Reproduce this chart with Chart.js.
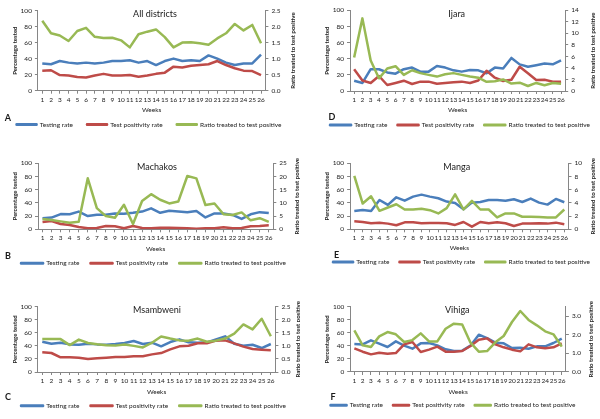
<!DOCTYPE html>
<html>
<head>
<meta charset="utf-8">
<script src="https://cdn.jsdelivr.net/npm/chart.js@4"></script>
<style>
  html, body { margin: 0; padding: 0; background: #fff; }
  body { width: 600px; height: 419px; position: relative; overflow: hidden; }
  canvas { position: absolute; }
</style>
</head>
<body>
<canvas id="chartA" width="300" height="140" style="left:0;top:0"></canvas>
<canvas id="chartD" width="300" height="140" style="left:300px;top:0"></canvas>
<canvas id="chartB" width="300" height="140" style="left:0;top:140px"></canvas>
<canvas id="chartE" width="300" height="140" style="left:300px;top:140px"></canvas>
<canvas id="chartC" width="300" height="139" style="left:0;top:280px"></canvas>
<canvas id="chartF" width="300" height="139" style="left:300px;top:280px"></canvas>
<script>
// --- Données ---
const weeks = ["1","2","3","4","5","6","7","8","9","10","11","12","13","14","15","16","17","18","19","20","21","22","23","24","25","26"];
const seriesNames = ["Testing rate", "Test positivity rate", "Ratio treated to test positive"];

const allTesting    = [34, 33, 37, 35, 34, 35, 34, 35, 37, 37, 38, 35, 37, 32, 37, 40, 37, 38, 37, 44, 40, 35, 32, 34, 34, 45];
const allPositivity = [25, 25.5, 19.5, 19, 17, 16.5, 19, 21, 19, 19, 19.5, 17.5, 19, 21, 22.5, 30, 29, 31, 32, 33, 37, 32, 28, 25, 24.5, 19.5];
const allRatio      = [2.18, 1.79, 1.72, 1.55, 1.86, 1.96, 1.68, 1.64, 1.65, 1.57, 1.35, 1.76, 1.84, 1.91, 1.67, 1.35, 1.50, 1.51, 1.48, 1.43, 1.63, 1.79, 2.08, 1.88, 2.05, 1.48];

const ijaraTesting    = [12.8, 10, 27, 27, 23, 21.5, 27, 29, 24, 24, 31, 29, 25.6, 24, 26, 25.6, 22, 29, 28, 41, 33, 30, 32, 34, 33, 38];
const ijaraPositivity = [27, 13, 10, 18.6, 7.4, 10, 12.8, 8.7, 11.6, 11.6, 9, 10, 10.7, 11.6, 10, 13, 25, 16.5, 12.4, 14, 30, 22, 13.6, 14, 11.6, 11.6];
const ijaraRatio      = [5.8, 12.6, 5.3, 2.2, 3.9, 4.3, 2.8, 3.6, 3.1, 2.8, 2.5, 2.9, 3.1, 2.8, 2.5, 2.3, 1.6, 1.7, 2.0, 1.3, 1.45, 0.87, 1.4, 1.0, 1.4, 1.27];

const machakosTesting    = [16.7, 17.7, 23, 22.7, 26.8, 20, 22, 22, 24, 23.7, 25, 26.8, 31.8, 25, 28, 26.8, 25.8, 27.8, 18, 24, 24, 21.7, 15.7, 22.7, 26, 24.7];
const machakosPositivity = [11, 12.6, 8, 6.6, 3.5, 1.5, 2, 5, 4.5, 1.5, 5, 2, 1.5, 2.5, 2.5, 2, 1.5, 1, 1.5, 1.5, 3, 1.5, 2, 4.5, 5, 6];
const machakosRatio      = [3.9, 3.5, 3.0, 2.5, 2.9, 19.3, 8.0, 5.0, 4.4, 9.3, 2.0, 10.7, 13.3, 11.2, 9.8, 10.5, 20.2, 19.3, 9.2, 9.8, 5.7, 5.4, 6.4, 3.4, 4.2, 2.8];

const mangaTesting    = [27.8, 29.3, 27.8, 44.4, 36.9, 48.5, 43.4, 49.5, 52.5, 49.5, 47, 42, 40, 30.3, 40.4, 41.4, 44.4, 44.4, 43.4, 45.5, 41.4, 46.5, 40.4, 37.4, 46, 41];
const mangaPositivity = [12.1, 11.1, 9.1, 10.1, 8.6, 6.1, 10.6, 10.6, 9.1, 9.6, 9.6, 9.1, 6.6, 11.1, 4, 11.1, 9.1, 10.6, 9.1, 5, 8.6, 8.6, 9.1, 8.6, 10.1, 7.6];
const mangaRatio      = [8.1, 3.9, 5.0, 2.8, 3.3, 3.8, 3.0, 3.0, 3.1, 2.9, 2.4, 3.2, 5.3, 3.0, 4.3, 3.0, 3.0, 1.8, 2.4, 2.4, 1.9, 1.9, 1.85, 1.8, 1.8, 3.0];

const msambweniTesting    = [46.4, 43.4, 44.9, 42.3, 41.8, 43.4, 42.3, 41.8, 42.9, 44.4, 47.4, 42.9, 44.9, 39.3, 45.9, 50, 45.4, 44.9, 45.4, 50, 54.6, 43.4, 40.3, 41.8, 36.7, 42.9];
const msambweniPositivity = [30.1, 29.1, 22.4, 22.4, 21.9, 19.9, 20.9, 21.9, 23, 23, 24, 24, 27, 29, 34.7, 39.3, 40.3, 43.9, 43.9, 48, 48.5, 43.9, 38.8, 35.2, 34.2, 33.2];
const msambweniRatio      = [1.26, 1.26, 1.26, 1.03, 1.24, 1.11, 1.06, 1.02, 1.01, 1.05, 1.0, 0.94, 1.12, 1.36, 1.28, 1.21, 1.2, 1.28, 1.16, 1.2, 1.28, 1.47, 1.82, 1.63, 2.04, 1.37];

const vihigaTesting    = [42.9, 42.3, 48.5, 43.4, 38.3, 46.9, 40.3, 35.7, 43.9, 44.4, 40.8, 34.7, 32.1, 32.7, 40.3, 57.1, 52, 44.9, 43.9, 36.7, 37.2, 35.7, 39.3, 39.3, 44.4, 51];
const vihigaPositivity = [36.2, 31.1, 27, 29.6, 28, 29, 42.3, 45.9, 30.6, 34.2, 38.8, 31.1, 31.1, 32.1, 39.8, 49.5, 51.5, 42.3, 37.8, 34.2, 31.6, 42.3, 37.8, 36.2, 37.8, 43.9];
const vihigaRatio      = [2.23, 1.43, 1.34, 1.91, 2.14, 2.02, 1.61, 1.71, 2.07, 1.64, 1.64, 2.32, 2.59, 2.55, 1.57, 1.09, 1.12, 1.59, 1.93, 2.68, 3.27, 2.79, 2.5, 2.18, 2.02, 1.36];

// --- Mise en page des six panneaux ---
const panels = [
  { id: "chartA", letter: "A", name: "All districts", data: [allTesting, allPositivity, allRatio], rMax: 2.5, rStep: 0.5, rDec: 1,
    box: { left: 37.9, right: 265.4, top: 10.5, bottom: 90.7 }, padL: 0, padR: 2, legendY: 124.5, legendPad: 14, legendBox: 20,
    weeksY: 110, leftTitleX: 15, rightTitleX: 293, titleX: 155, titleY: 14, letterX: 8, letterY: 118 },
  { id: "chartD", letter: "D", name: "Ijara", data: [ijaraTesting, ijaraPositivity, ijaraRatio], rMax: 14, rStep: 2, rDec: 0,
    box: { left: 50, right: 265.2, top: 10.3, bottom: 91 }, padL: 20, padR: 0, legendY: 125, legendPad: 10, legendBox: 21,
    weeksY: 110, leftTitleX: 27, rightTitleX: 293, titleX: 156.7, titleY: 14, letterX: 32, letterY: 117 },
  { id: "chartB", letter: "B", name: "Machakos", data: [machakosTesting, machakosPositivity, machakosRatio], rMax: 25, rStep: 5, rDec: 0,
    box: { left: 38, right: 273.3, top: 23.3, bottom: 89.3 }, padL: 7, padR: 0, legendY: 123.3, legendPad: 11, legendBox: 22,
    weeksY: 109.3, leftTitleX: 15, rightTitleX: 297.5, titleX: 157, titleY: 26.7, letterX: 8, letterY: 116 },
  { id: "chartE", letter: "E", name: "Manga", data: [mangaTesting, mangaPositivity, mangaRatio], rMax: 10, rStep: 2, rDec: 0,
    box: { left: 50.1, right: 268.5, top: 23.3, bottom: 89.3 }, padL: 23, padR: 0, legendY: 122, legendPad: 10, legendBox: 20,
    weeksY: 108.3, leftTitleX: 27, rightTitleX: 293, titleX: 156.7, titleY: 26.7, letterX: 36.7, letterY: 115 },
  { id: "chartC", letter: "C", name: "Msambweni", data: [msambweniTesting, msambweniPositivity, msambweniRatio], rMax: 2.5, rStep: 0.5, rDec: 1,
    box: { left: 37.7, right: 275.4, top: 26.7, bottom: 92 }, padL: 7, padR: 0, legendY: 126, legendPad: 11, legendBox: 22,
    weeksY: 111.5, leftTitleX: 15, rightTitleX: 298.5, titleX: 157, titleY: 30, letterX: 8, letterY: 117.3 },
  { id: "chartF", letter: "F", name: "Vihiga", data: [vihigaTesting, vihigaPositivity, vihigaRatio], rMax: 3.5, rStep: 0.5, rDec: 1,
    box: { left: 50.2, right: 265.9, top: 26.7, bottom: 92 }, padL: 6, padR: 0, legendY: 125.3, legendPad: 10, legendBox: 16,
    weeksY: 111.7, leftTitleX: 27, rightTitleX: 291, titleX: 157.3, titleY: 30, letterX: 33, letterY: 117.3 },
];

const colors = ["#4A7EBB", "#BE4B48", "#98B954"];
const axisColor = "#868686";
const textColor = "#1a1a1a";
const fs = 6.5;

Chart.defaults.font.family = "Lato";
Chart.defaults.color = textColor;

// titre, titre d'axe droit et lettre du panneau
function decor(p) {
  return {
    id: "decor",
    afterDraw(chart) {
      const { ctx, chartArea } = chart;
      ctx.save();
      ctx.fillStyle = textColor;
      ctx.textAlign = "center";
      ctx.textBaseline = "middle";
      ctx.font = "9px Lato";
      ctx.fillText(p.name, p.titleX, p.titleY);
      ctx.font = "bold 9px Lato";
      ctx.fillText(p.letter, p.letterX, p.letterY);
      ctx.translate(p.rightTitleX, (chartArea.top + chartArea.bottom) / 2);
      ctx.rotate(-Math.PI / 2);
      ctx.font = "bold 6px Lato";
      ctx.fillText("Ratio treated to test positive", 0, 0);
      ctx.restore();
    },
  };
}

function makeChart(p) {
  const canvas = document.getElementById(p.id);
  const W = canvas.width, H = canvas.height;
  const padB = Math.max(0, H - p.legendY - fs / 2 - 10);
  const legendTop = H - padB - (fs + p.legendPad + 10);
  const lh = fs * 1.2;

  const datasets = p.data.map((values, i) => ({
    label: seriesNames[i],
    data: values,
    yAxisID: i === 2 ? "y1" : "y",
    borderColor: colors[i],
    backgroundColor: colors[i],
    borderWidth: 2.5,
    pointRadius: 0,
    tension: 0,
    borderJoinStyle: "round",
    order: 3 - i,
  }));

  new Chart(canvas, {
    type: "line",
    data: { labels: weeks, datasets },
    plugins: [decor(p)],
    options: {
      responsive: false,
      animation: false,
      layout: { padding: { top: p.box.top, left: p.padL, right: p.padR, bottom: padB } },
      plugins: {
        tooltip: { enabled: false },
        legend: {
          position: "bottom",
          labels: {
            boxWidth: p.legendBox,
            boxHeight: 0.5,
            padding: p.legendPad,
            font: { size: fs },
            color: textColor,
            sort: (a, b) => a.datasetIndex - b.datasetIndex,
          },
        },
      },
      scales: {
        x: {
          offset: true,
          grid: { drawOnChartArea: false, tickLength: 3, color: axisColor },
          border: { color: axisColor },
          ticks: { autoSkip: false, maxRotation: 0, padding: 2, font: { size: fs } },
          title: { display: true, text: "Weeks", font: { size: fs }, padding: { top: 0, bottom: legendTop - p.weeksY - lh / 2 } },
          afterFit: (s) => { s.height = legendTop - p.box.bottom; },
        },
        y: {
          position: "left",
          min: 0, max: 100,
          grid: { drawOnChartArea: false, tickLength: 3, color: axisColor },
          border: { color: axisColor },
          ticks: { stepSize: 20, padding: 3, font: { size: fs } },
          title: { display: true, text: "Percentage tested", font: { size: 6, weight: "bold" },
                   padding: { top: p.leftTitleX - p.padL - 3.6, bottom: 0 } },
          afterFit: (s) => { s.width = p.box.left - p.padL; },
        },
        y1: {
          position: "right",
          min: 0, max: p.rMax,
          grid: { drawOnChartArea: false, tickLength: 3, color: axisColor },
          border: { color: axisColor },
          ticks: { stepSize: p.rStep, padding: 3, font: { size: fs }, callback: (v) => Number(v).toFixed(p.rDec) },
          afterFit: (s) => { s.width = W - p.padR - p.box.right; },
        },
      },
    },
  });
}

panels.forEach(makeChart);
</script>
</body>
</html>
